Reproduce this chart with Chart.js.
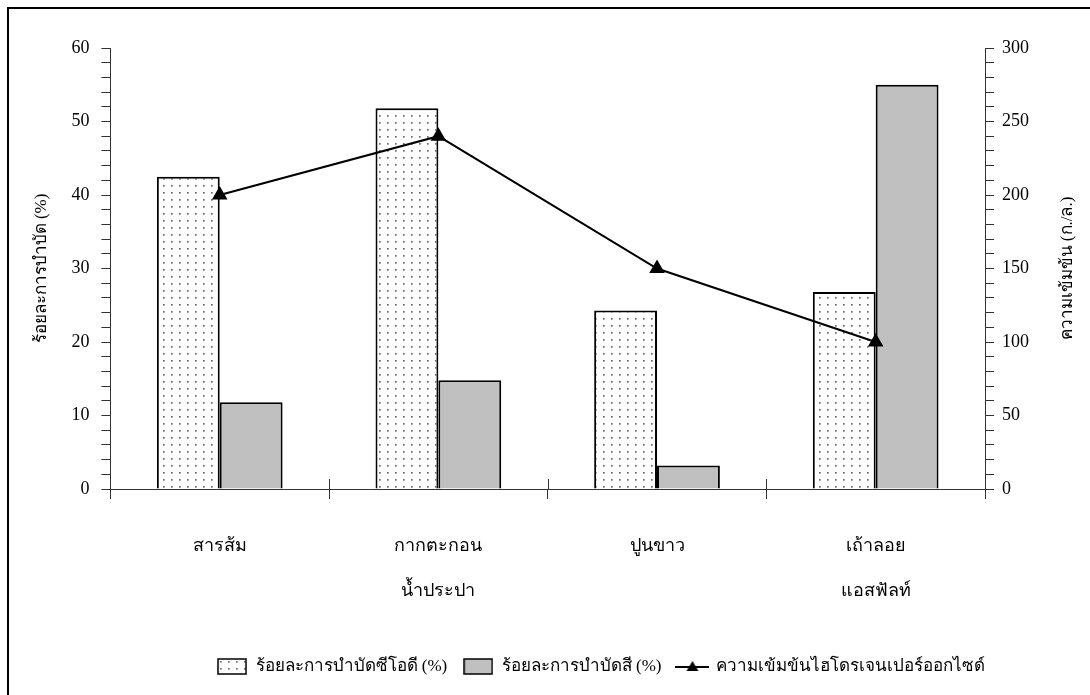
<!DOCTYPE html>
<html>
<head>
<meta charset="utf-8">
<script src="https://cdn.jsdelivr.net/npm/chart.js@4.4.1/dist/chart.umd.min.js"></script>
<style>
  html, body { margin: 0; padding: 0; background: #fff; }
  #wrap { width: 1090px; height: 695px; position: relative; }
</style>
</head>
<body>
<div id="wrap"><canvas id="c" width="1090" height="695"></canvas></div>
<script>
const categories = ['สารส้ม', ['กากตะกอน', 'น้ำประปา'], 'ปูนขาว', ['เถ้าลอย', 'แอสฟัลท์']];
const codRemoval = [42.5, 51.8, 24.3, 26.8];
const colorRemoval = [11.8, 14.8, 3.2, 55.0];
const h2o2Conc = [200, 240, 150, 100];
const seriesNames = ['ร้อยละการบำบัดซีโอดี (%)', 'ร้อยละการบำบัดสี (%)', 'ความเข้มข้นไฮโดรเจนเปอร์ออกไซด์'];
const leftTitle = 'ร้อยละการบำบัด (%)';
const rightTitle = 'ความเข้มข้น (ก./ล.)';

const FONT = '"Liberation Serif", "Times New Roman", serif';

// dotted pattern
function makeDotPattern() {
  const t = document.createElement('canvas');
  t.width = 8; t.height = 7;
  const g = t.getContext('2d');
  g.fillStyle = '#ffffff';
  g.fillRect(0, 0, 8, 7);
  g.fillStyle = '#6e6e6e';
  g.fillRect(3, 3, 1.7, 1.7);
  return document.createElement('canvas').getContext('2d').createPattern(t, 'repeat');
}
const dotPattern = makeDotPattern();
const GRAY = '#c0c0c0';

function boxIcon(fill) {
  const c = document.createElement('canvas');
  c.width = 30; c.height = 17;
  const g = c.getContext('2d');
  g.fillStyle = fill;
  g.fillRect(1, 1, 28, 15);
  g.strokeStyle = '#000';
  g.lineWidth = 1.5;
  g.strokeRect(1, 1, 28, 15);
  return c;
}
function lineIcon() {
  const c = document.createElement('canvas');
  c.width = 34; c.height = 17;
  const g = c.getContext('2d');
  g.strokeStyle = '#000';
  g.lineWidth = 2;
  g.beginPath(); g.moveTo(0, 9); g.lineTo(34, 9); g.stroke();
  g.fillStyle = '#000';
  g.beginPath(); g.moveTo(17, 3); g.lineTo(23, 13); g.lineTo(11, 13); g.closePath(); g.fill();
  return c;
}
const legendIcons = [boxIcon(dotPattern), boxIcon(GRAY), lineIcon()];

const framePlugin = {
  id: 'frame',
  afterLayout(chart) {
    // shift legend block to the right like the original
    if (chart.legend) {
      chart.legend.left += 67;
      chart.legend.right += 67;
    }
  },
  beforeDraw(chart) {
    const ctx = chart.ctx;
    ctx.save();
    ctx.fillStyle = '#fff';
    ctx.fillRect(0, 0, chart.width, chart.height);
    ctx.strokeStyle = '#000';
    ctx.lineWidth = 2;
    ctx.beginPath();
    ctx.moveTo(8, chart.height);
    ctx.lineTo(8, 8);
    ctx.lineTo(chart.width, 8);
    ctx.stroke();
    ctx.restore();
  },
  afterDatasetsDraw(chart) {
    const x = chart.scales.x;
    const y1 = chart.scales.y1;
    const ctx = chart.ctx;
    const n = x.getLabels().length;
    ctx.save();
    // upper half of the category separator ticks (cross the axis)
    ctx.strokeStyle = '#333';
    ctx.lineWidth = 1;
    for (let i = 1; i < n; i++) {
      const px = Math.round(x.left + i * x.width / n) + 0.5;
      ctx.beginPath();
      ctx.moveTo(px, x.top - 10);
      ctx.lineTo(px, x.top);
      ctx.stroke();
    }
    // right axis title, rotated the same way as the left one
    ctx.translate(y1.right + 31, (y1.top + y1.bottom) / 2);
    ctx.rotate(-Math.PI / 2);
    ctx.fillStyle = '#000';
    ctx.font = '17px ' + FONT;
    ctx.textAlign = 'center';
    ctx.textBaseline = 'middle';
    ctx.fillText(rightTitle, 0, 0);
    ctx.restore();
  }
};

new Chart(document.getElementById('c'), {
  type: 'bar',
  data: {
    labels: categories,
    datasets: [
      {
        label: seriesNames[0],
        data: codRemoval,
        backgroundColor: dotPattern,
        borderColor: '#000',
        borderWidth: 2,
        yAxisID: 'y',
        order: 2,
        barPercentage: 1,
        categoryPercentage: 0.575
      },
      {
        label: seriesNames[1],
        data: colorRemoval,
        backgroundColor: GRAY,
        borderColor: '#000',
        borderWidth: 2,
        yAxisID: 'y',
        order: 2,
        barPercentage: 1,
        categoryPercentage: 0.575
      },
      {
        type: 'line',
        label: seriesNames[2],
        data: h2o2Conc,
        borderColor: '#000',
        borderWidth: 2,
        backgroundColor: '#000',
        pointStyle: 'triangle',
        pointRadius: 7,
        pointBackgroundColor: '#000',
        pointBorderColor: '#000',
        yAxisID: 'y1',
        order: 0,
        tension: 0
      }
    ]
  },
  options: {
    responsive: false,
    animation: false,
    devicePixelRatio: 1,
    layout: { padding: { left: 31, right: 53, top: 48, bottom: 10 } },
    plugins: {
      tooltip: { enabled: false },
      legend: {
        position: 'bottom',
        labels: {
          usePointStyle: true,
          pointStyleWidth: 30,
          color: '#000',
          font: { family: FONT, size: 17 },
          padding: 16,
          generateLabels(chart) {
            return chart.data.datasets.map((ds, i) => ({
              text: ds.label,
              pointStyle: legendIcons[i],
              fillStyle: '#fff',
              strokeStyle: '#000',
              lineWidth: 0,
              hidden: false,
              datasetIndex: i,
              fontColor: '#000'
            }));
          }
        }
      }
    },
    scales: {
      x: {
        type: 'category',
        offset: true,
        border: { display: true, color: '#333', width: 1 },
        grid: {
          display: true,
          offset: true,
          drawOnChartArea: false,
          drawTicks: true,
          tickLength: 10,
          tickColor: '#333',
          color: '#333'
        },
        ticks: {
          color: '#000',
          font: { family: FONT, size: 18, lineHeight: 2.5 },
          padding: 25,
          maxRotation: 0,
          autoSkip: false
        },
        afterFit(scale) { scale.height += 3; }
      },
      y: {
        type: 'linear',
        position: 'left',
        min: 0,
        max: 60,
        border: { display: true, color: '#333', width: 1 },
        grid: {
          drawOnChartArea: false,
          tickLength: 9,
          tickColor: '#333'
        },
        ticks: {
          stepSize: 2,
          autoSkip: false,
          color: '#000',
          font: { family: FONT, size: 18 },
          padding: 12,
          callback: v => (v % 10 === 0 ? v : '')
        },
        title: {
          display: true,
          text: leftTitle,
          color: '#000',
          font: { family: FONT, size: 17 },
          padding: { top: 0, bottom: 8 }
        }
      },
      y1: {
        type: 'linear',
        position: 'right',
        min: 0,
        max: 300,
        border: { display: true, color: '#333', width: 1 },
        grid: {
          drawOnChartArea: false,
          tickLength: 9,
          tickColor: '#333'
        },
        ticks: {
          stepSize: 10,
          autoSkip: false,
          color: '#000',
          font: { family: FONT, size: 18 },
          padding: 8,
          callback: v => (v % 50 === 0 ? v : '')
        }
      }
    }
  },
  plugins: [framePlugin]
});
</script>
</body>
</html>
